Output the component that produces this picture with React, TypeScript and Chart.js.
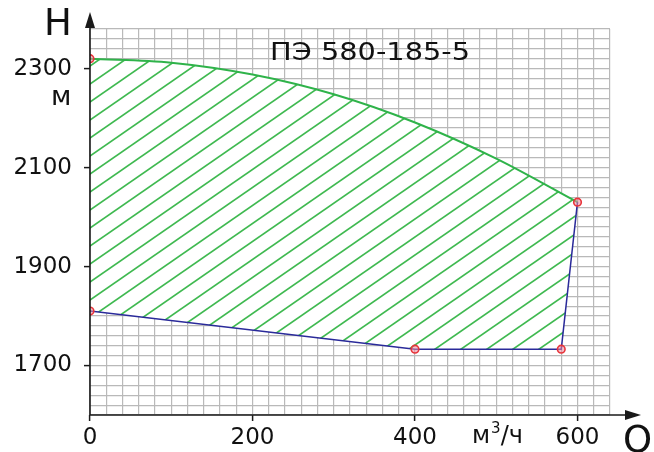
import React, { useEffect, useRef } from "react";
import { Chart, registerables } from "chart.js";
Chart.register(...registerables);

// Upper (green) boundary: head curve H(Q)
const upperQ = [0, 100, 200, 300, 400, 500, 600];
const upperH = [2320, 2312, 2288, 2248, 2191, 2118, 2030];
// Lower (blue) boundary polyline
const lowerQ = [0, 400, 580, 600];
const lowerH = [1810, 1733, 1733, 2030];
// Red marker points
const markerQ = [0, 600, 0, 400, 580];
const markerH = [2320, 2030, 1810, 1733, 1733];
// Tick labels
const xTickLabels = [0, 200, 400, 600];
const yTickLabels = [1700, 1900, 2100, 2300];
const titleText = "ПЭ 580-185-5";
const yUnit = "м";
const xUnitMain = "м";
const xUnitSup = "3";
const xUnitRest = "/ч";
const yAxisName = "H";
const xAxisName = "Q";

const FONT = "'DejaVu Sans', sans-serif";

export default function App() {
  const ref = useRef<HTMLCanvasElement | null>(null);

  useEffect(() => {
    const canvas = ref.current!;
    const ctx = canvas.getContext("2d")!;

    // hatch pattern
    const W = 26, H = 18;
    const tile = document.createElement("canvas");
    tile.width = W;
    tile.height = H;
    const t = tile.getContext("2d")!;
    t.fillStyle = "#ffffff";
    t.fillRect(0, 0, W, H);
    t.strokeStyle = "#3fb950";
    t.lineWidth = 1.7;
    for (let n = 0; n <= 2; n++) {
      t.beginPath();
      t.moveTo(-W, (n + 1) * H);
      t.lineTo(2 * W, (n - 2) * H);
      t.stroke();
    }
    const pattern = ctx.createPattern(tile, "repeat")!;
    try {
      pattern.setTransform(new DOMMatrix().translate(90, 300));
    } catch (e) {}

    const decor = {
      id: "decor",
      afterDraw(chart: any) {
        const c = chart.ctx;
        const a = chart.chartArea;
        c.save();
        c.strokeStyle = "#1a1a1a";
        c.fillStyle = "#1a1a1a";
        c.lineWidth = 1.6;
        // vertical axis with arrow
        c.beginPath();
        c.moveTo(a.left, a.bottom);
        c.lineTo(a.left, a.top - 10);
        c.stroke();
        c.beginPath();
        c.moveTo(a.left, a.top - 17);
        c.lineTo(a.left - 5, a.top - 1);
        c.lineTo(a.left + 5, a.top - 1);
        c.closePath();
        c.fill();
        // horizontal axis with arrow
        c.beginPath();
        c.moveTo(a.left, a.bottom);
        c.lineTo(a.right + 20, a.bottom);
        c.stroke();
        c.beginPath();
        c.moveTo(a.right + 31, a.bottom);
        c.lineTo(a.right + 15, a.bottom - 5);
        c.lineTo(a.right + 15, a.bottom + 5);
        c.closePath();
        c.fill();

        c.fillStyle = "#111";
        c.textBaseline = "alphabetic";
        c.textAlign = "left";
        c.font = `37px ${FONT}`;
        c.fillText(yAxisName, 44, 35);
        c.fillText(xAxisName, 623, 452);
        c.font = `27px ${FONT}`;
        c.fillText(yUnit, 51, 105);
        // title, slightly stretched horizontally like the reference
        c.font = `25px ${FONT}`;
        const tw = c.measureText(titleText).width;
        c.save();
        c.translate(270, 60);
        c.scale(200 / tw, 1);
        c.fillText(titleText, 0, 0);
        c.restore();
        // x unit
        c.font = `24px ${FONT}`;
        let x = 472;
        c.fillText(xUnitMain, x, 443);
        x += c.measureText(xUnitMain).width;
        c.font = `15px ${FONT}`;
        c.fillText(xUnitSup, x + 1, 433);
        x += c.measureText(xUnitSup).width + 1;
        c.font = `24px ${FONT}`;
        c.fillText(xUnitRest, x, 443);
        c.restore();
      },
    };

    const gridColor = "#b9b9b9";

    const chart = new Chart(ctx, {
      type: "line",
      data: {
        datasets: [
          {
            label: "upper",
            data: upperQ.map((q, i) => ({ x: q, y: upperH[i] })),
            borderColor: "#2fb34a",
            borderWidth: 2,
            pointRadius: 0,
            cubicInterpolationMode: "monotone",
            fill: { target: 1 },
            backgroundColor: pattern as any,
            order: 3,
          },
          {
            label: "lower",
            data: lowerQ.map((q, i) => ({ x: q, y: lowerH[i] })),
            borderColor: "#2a2a9a",
            borderWidth: 1.5,
            pointRadius: 0,
            tension: 0,
            fill: false,
            order: 2,
          },
          {
            label: "points",
            data: markerQ.map((q, i) => ({ x: q, y: markerH[i] })),
            showLine: false,
            pointRadius: 3.8,
            pointBorderWidth: 1.6,
            pointBorderColor: "#e8343a",
            pointBackgroundColor: "rgba(240,140,160,0.55)",
            fill: false,
            order: 1,
          },
        ],
      },
      options: {
        responsive: false,
        animation: false,
        layout: { padding: { left: 0, right: 44, top: 29, bottom: 0 } },
        plugins: {
          legend: { display: false },
          tooltip: { enabled: false },
        },
        scales: {
          x: {
            type: "linear",
            min: 0,
            max: 640,
            afterFit: (s: any) => {
              s.height = 37;
            },
            border: { display: false },
            grid: {
              color: gridColor,
              lineWidth: 1.2,
              tickLength: 6,
              tickColor: (c: any) =>
                c.tick && xTickLabels.includes(c.tick.value) ? "#1a1a1a" : "rgba(0,0,0,0)",
              tickWidth: 1.5,
            },
            ticks: {
              stepSize: 20,
              autoSkip: false,
              maxRotation: 0,
              padding: 3,
              color: "#111",
              font: { family: FONT, size: 23 },
              callback: (v: any) => (xTickLabels.includes(Number(v)) ? String(v) : ""),
            },
          },
          y: {
            type: "linear",
            min: 1600,
            max: 2380,
            afterFit: (s: any) => {
              s.width = 90;
            },
            border: { display: false },
            grid: {
              color: gridColor,
              lineWidth: 1.2,
              tickLength: 6,
              tickColor: (c: any) =>
                c.tick && yTickLabels.includes(c.tick.value) ? "#1a1a1a" : "rgba(0,0,0,0)",
              tickWidth: 1.5,
            },
            ticks: {
              stepSize: 20,
              autoSkip: false,
              padding: 12,
              color: "#111",
              font: { family: FONT, size: 23 },
              callback: (v: any) => (yTickLabels.includes(Number(v)) ? String(v) : ""),
            },
          },
        },
      },
      plugins: [decor],
    } as any);

    return () => chart.destroy();
  }, []);

  return (
    <div style={{ position: "fixed", left: 0, top: 0, width: 654, height: 452, background: "#fff" }}>
      <canvas ref={ref} width={654} height={452} style={{ display: "block" }} />
    </div>
  );
}
